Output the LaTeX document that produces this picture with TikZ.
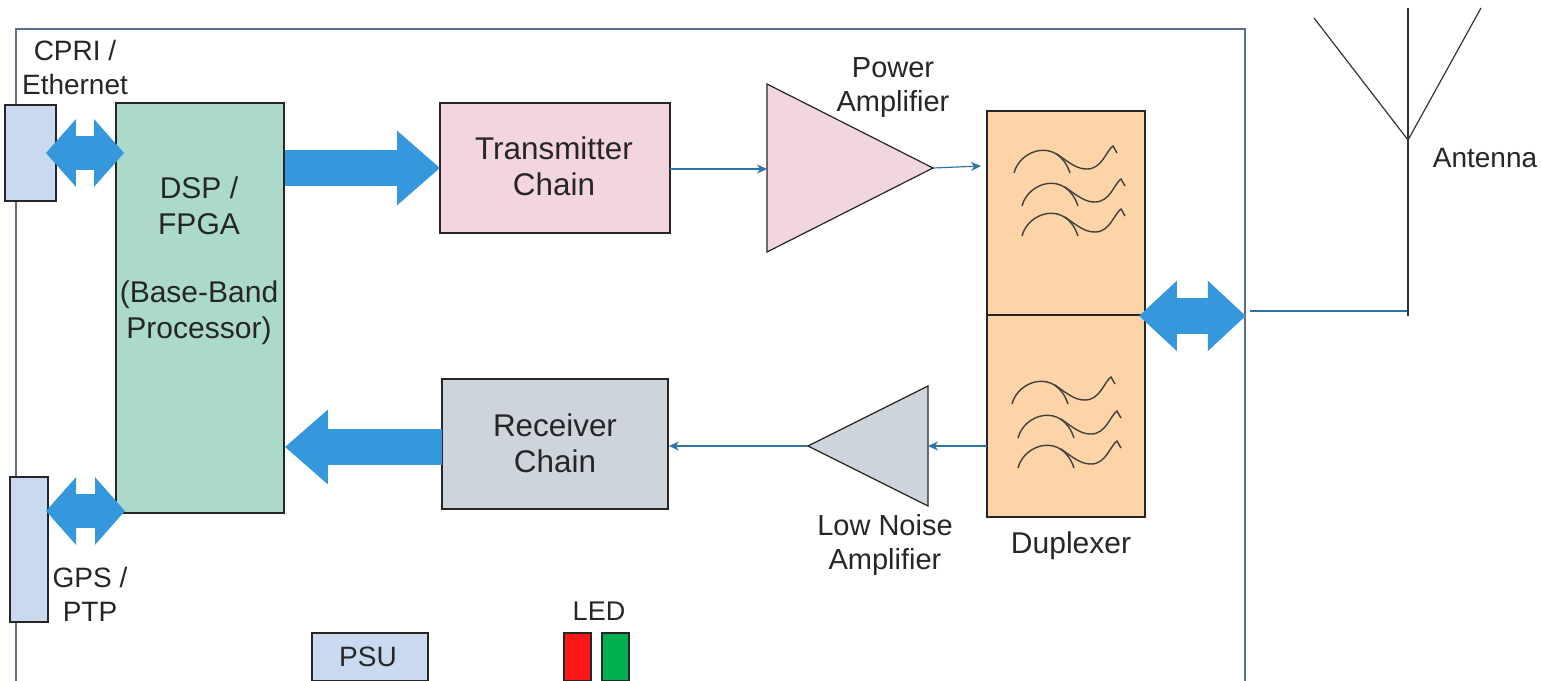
\documentclass[tikz,border=0pt]{standalone}
\usepackage{fontspec}
\setmainfont{Liberation Sans}
\usepackage{xcolor}
\usetikzlibrary{shapes.geometric, arrows.meta}

\definecolor{boardline}{HTML}{5B7288}
\definecolor{wirecol}{HTML}{2E75A6}
\definecolor{fatcol}{HTML}{3598DC}
\definecolor{dspcol}{HTML}{ABD9CA}
\definecolor{txcol}{HTML}{F3D5DF}
\definecolor{rxcol}{HTML}{CED4DB}
\definecolor{dupcol}{HTML}{FDD3A8}
\definecolor{portcol}{HTML}{C9DAF0}
\definecolor{textcol}{HTML}{262626}
\definecolor{ledred}{HTML}{FF1616}
\definecolor{ledgreen}{HTML}{00B050}

\tikzset{
  blockbox/.style={draw=black!85, line width=0.9pt, inner sep=0pt, text=textcol, align=center},
  ampshape/.style={draw=black!85, line width=0.6pt, isosceles triangle, isosceles triangle stretches, inner sep=0pt, outer sep=0pt, anchor=apex},
  biglabel/.style={text=textcol, align=center, font=\fontsize{15.7}{18}\selectfont},
  smalllabel/.style={text=textcol, align=center, font=\fontsize{14}{17}\selectfont},
  wire/.style={draw=wirecol, line width=0.6pt},
  wirearrow/.style={wire, -{Stealth[length=5pt, width=4.5pt]}},
  fatarrow/.style={draw=fatcol, line width=18pt, -{Triangle[length=21.5pt, width=36pt]}},
  fatdouble/.style={draw=fatcol, line width=17pt, {Triangle[length=15pt, width=33pt]}-{Triangle[length=15pt, width=33pt]}},
  filterwave/.pic={
    \draw[line width=0.7pt, black!75] (0,0) .. controls (6,-24) and (44,-36) .. (56,0);
    \draw[line width=0.7pt, black!75] (43,-19) .. controls (58,-8) and (64,-4) .. (73,-4) .. controls (88,-4) and (92,-22) .. (99,-27) -- (103,-20);
  }
}

\begin{document}
\begin{tikzpicture}[x=0.5pt, y=-0.5pt]
  \useasboundingbox (0,0) rectangle (1542,680);
  \clip (0,0) rectangle (1542,680);

  % Board outline
  \node[draw=boardline, line width=0.8pt, minimum width=614.5pt, minimum height=346pt, inner sep=0pt] (board) at (630.5,375) {};

  % Ports
  \node[blockbox, fill=portcol, minimum width=25.5pt, minimum height=48pt] (cpri) at (30.5,153) {};
  \node[blockbox, fill=portcol, minimum width=19pt, minimum height=72.5pt] (gps) at (29,549.5) {};
  \node[smalllabel] (cprilabel) at (75,67) {CPRI /\\Ethernet};
  \node[smalllabel] (gpslabel) at (90,594) {GPS /\\PTP};

  % Baseband
  \node[blockbox, fill=dspcol, minimum width=84pt, minimum height=205pt] (dsp) at (200,308) {};
  \node[biglabel, font=\fontsize{15}{18}\selectfont] (dsplabel) at (199,261) {DSP /\\FPGA\\[16pt](Base-Band\\Processor)};

  % Chains
  \node[blockbox, fill=txcol, minimum width=115pt, minimum height=65pt] (tx) at (555,168) {};
  \node[blockbox, fill=rxcol, minimum width=113pt, minimum height=65pt] (rx) at (555,444) {};
  \node[biglabel] (txlabel) at (554,166) {Transmitter\\Chain};
  \node[biglabel] (rxlabel) at (555,443) {Receiver\\Chain};

  % Amplifiers
  \node[ampshape, fill=txcol, minimum width=84pt, minimum height=83pt] (pa) at (933,168) {};
  \node[ampshape, fill=rxcol, shape border rotate=180, minimum width=60pt, minimum height=60pt] (lna) at (808,446) {};
  \node[smalllabel, font=\fontsize{14.5}{17}\selectfont] (palabel) at (893,88) {Power\\Amplifier};
  \node[smalllabel, font=\fontsize{14.5}{17}\selectfont] (lnalabel) at (885,545) {Low Noise\\Amplifier};

  % Duplexer
  \node[blockbox, fill=dupcol, minimum width=79pt, minimum height=102pt] (dupt) at (1066,213) {};
  \node[blockbox, fill=dupcol, minimum width=79pt, minimum height=101pt] (dupb) at (1066,416) {};
  \node[biglabel, font=\fontsize{15}{18}\selectfont] (duplabel) at (1071,546) {Duplexer};
  \foreach \px/\py in {1014/173, 1022/206, 1022/236, 1012/404, 1018/438, 1018/468} {
    \pic at (\px,\py) {filterwave};
  }

  % Thin signal wires
  \coordinate (txout) at (670,169);
  \coordinate (dupin) at (981,166);
  \coordinate (dupout) at (987,446);
  \draw[wirearrow] (txout) -- (txout -| pa.lower side);
  \draw[wirearrow] (pa.apex) -- (dupin);
  \draw[wirearrow] (dupout) -- (dupout -| lna.lower side);
  \draw[wirearrow] (lna.apex) -- (lna.apex -| rx.east);

  % Fat data arrows
  \coordinate (txin) at (440,168);
  \coordinate (rxout) at (442,447);
  \draw[fatarrow] (txin -| dsp.east) -- (txin);
  \draw[fatarrow] (rxout) -- (rxout -| dsp.east);
  \coordinate (gpsa) at (46,511);
  \coordinate (gpsb) at (125,511);
  \draw[fatdouble, shorten <=-5.5pt, shorten >=-4.5pt] (cpri.east) -- (cpri.east -| dsp.west);
  \draw[fatdouble] (gpsa) -- (gpsb);
  \draw[draw=fatcol, line width=18pt, {Triangle[length=19pt, width=34pt]}-{Triangle[length=19pt, width=34pt]}, shorten <=-3.5pt] (dupt.south east) -- (dupt.south east -| board.east);

  % Antenna
  \coordinate (antfeed) at (1250,311);
  \coordinate (anttop) at (1408,8);
  \coordinate (antjoint) at (1408,140);
  \coordinate (antbase) at (1408,316);
  \coordinate (antleft) at (1314,18);
  \coordinate (antright) at (1481,8);
  \draw[wire] (antfeed) -- (antfeed -| antbase);
  \draw[line width=0.6pt, black!80] (anttop) -- (antbase);
  \draw[line width=0.6pt, black!80] (antleft) -- (antjoint) -- (antright);
  \node[smalllabel] (antlabel) at (1485,158) {Antenna};

  % PSU and LEDs
  \node[blockbox, fill=portcol, minimum width=58pt, minimum height=24pt] (psu) at (370,657) {};
  \node[text=textcol, font=\fontsize{14}{16}\selectfont] (psulabel) at (368,657) {PSU};
  \node[blockbox, fill=ledred, minimum width=13.5pt, minimum height=24pt] (redled) at (577.5,657) {};
  \node[blockbox, fill=ledgreen, minimum width=13.5pt, minimum height=24pt] (greenled) at (615.5,657) {};
  \node[smalllabel, font=\fontsize{13.5}{16}\selectfont] (ledlabel) at (599,611) {LED};
\end{tikzpicture}
\end{document}
